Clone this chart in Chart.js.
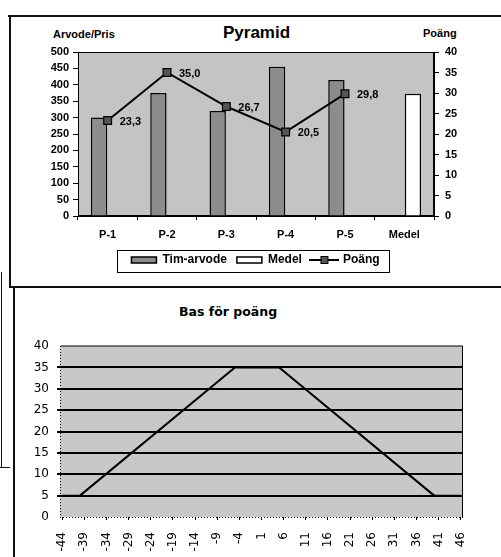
<!DOCTYPE html>
<html>
<head>
<meta charset="utf-8">
<script src="https://cdn.jsdelivr.net/npm/chart.js@4/dist/chart.umd.min.js"></script>
<style>
  html, body { margin: 0; padding: 0; background: #fff; }
  body { width: 501px; height: 557px; position: relative; overflow: hidden; font-family: 'Liberation Sans', Arial, sans-serif; }
  .box { position: absolute; }
  .rule { position: absolute; background: #111; }
  .txt { position: absolute; line-height: 1; white-space: nowrap; color: #000; }
  #top { left: 10px; top: 16px; width: 491px; height: 271px; }
  #bot { left: 15px; top: 288px; width: 486px; height: 269px; }
</style>
</head>
<body>
<!-- frames of the scanned page -->
<div class="rule" style="left:8px; top:15px; width:493px; height:2px"></div>
<div class="rule" style="left:9px; top:15px; width:2px; height:273px"></div>
<div class="rule" style="left:11px; top:286px; width:490px; height:2px"></div>
<div class="rule" style="left:13px; top:286px; width:2px; height:271px"></div>
<div class="rule" style="left:1px; top:272px; width:1px; height:196px"></div>
<div class="rule" style="left:0px; top:467px; width:10px; height:1px"></div>

<div class="txt" style="left:223px; top:24px; font-size:17px; font-weight:bold">Pyramid</div>
<div class="txt" style="left:53px; top:29px; font-size:11px; font-weight:bold">Arvode/Pris</div>
<div class="txt" style="left:423px; top:28px; font-size:11px; font-weight:bold">Poäng</div>
<div class="txt" style="left:179px; top:306px; font-size:12.5px; font-weight:bold; font-family:'DejaVu Sans'">Bas för poäng</div>

<div class="box" id="top"><canvas id="c1"></canvas></div>
<div class="box" id="bot"><canvas id="c2"></canvas></div>

<script>
// Pyramid
const categories = ['P-1', 'P-2', 'P-3', 'P-4', 'P-5', 'Medel'];
const timArvode = [300, 375, 320, 455, 415, null];
const medel = [null, null, null, null, null, 373];
const poang = [23.3, 35.0, 26.7, 20.5, 29.8, null];

// Bas för poäng
const basTicks = [-44, -39, -34, -29, -24, -19, -14, -9, -4, 1, 6, 11, 16, 21, 26, 31, 36, 41, 46];
const basX = [-44, -40, -5, 5, 40, 46];
const basY = [5, 5, 35, 35, 5, 5];

const smallFont = { family: "'Liberation Sans', Arial, sans-serif", size: 11, weight: 'bold' };

// plot background + frame (dotted axes for the lower chart)
const plotBox = {
    id: 'plotBox',
    beforeDraw(chart, args, opts) {
        const { ctx, chartArea: a } = chart;
        ctx.save();
        ctx.fillStyle = opts.fill;
        ctx.fillRect(a.left, a.top, a.width, a.height);
        ctx.restore();
    },
    beforeDatasetsDraw(chart, args, opts) {
        const { ctx, chartArea: a } = chart;
        ctx.save();
        ctx.strokeStyle = '#000';
        ctx.lineWidth = 1;
        if (!opts.dotted) {
            ctx.strokeRect(a.left + 0.5, a.top + 0.5, a.width - 1, a.height - 1);
        } else {
            ctx.beginPath();
            ctx.moveTo(a.left + 0.5, a.top);
            ctx.lineTo(a.right - 0.5, a.top);
            ctx.lineTo(a.right - 0.5, a.bottom);
            ctx.stroke();
            ctx.setLineDash([1, 2]);
            ctx.beginPath();
            ctx.moveTo(a.left + 0.5, a.top);
            ctx.lineTo(a.left + 0.5, a.bottom + 0.5);
            ctx.lineTo(a.right, a.bottom + 0.5);
            ctx.stroke();
        }
        ctx.restore();
    }
};

const pointValues = {
    id: 'pointValues',
    afterDatasetsDraw(chart) {
        const { ctx } = chart;
        const meta = chart.getDatasetMeta(2);
        ctx.save();
        ctx.font = "bold 11px 'Liberation Sans', Arial, sans-serif";
        ctx.fillStyle = '#000';
        ctx.textBaseline = 'middle';
        meta.data.forEach((pt, i) => {
            if (poang[i] == null) return;
            ctx.fillText(poang[i].toFixed(1).replace('.', ','), pt.x + 12, pt.y + 1);
        });
        ctx.restore();
    }
};

const legendFrame = {
    id: 'legendFrame',
    afterDraw(chart) {
        const boxes = chart.legend.legendHitBoxes;
        if (!boxes || !boxes.length) return;
        const left = Math.min(...boxes.map(b => b.left)) - 14;
        const right = Math.max(...boxes.map(b => b.left + b.width)) + 10;
        const top = boxes[0].top - 4;
        const ctx = chart.ctx;
        ctx.save();
        ctx.strokeStyle = '#000';
        ctx.lineWidth = 1;
        ctx.strokeRect(Math.round(left) + 0.5, Math.round(top) + 0.5, Math.round(right - left), 22);
        ctx.restore();
    }
};

// legend swatch for the line series: line with a square marker
const lineSwatch = document.createElement('canvas');
lineSwatch.width = 30;
lineSwatch.height = 10;
(() => {
    const g = lineSwatch.getContext('2d');
    g.strokeStyle = '#000';
    g.lineWidth = 2;
    g.beginPath(); g.moveTo(0, 5); g.lineTo(30, 5); g.stroke();
    g.fillStyle = '#555';
    g.fillRect(11.5, 1.5, 7, 7);
    g.lineWidth = 1;
    g.strokeRect(11.5, 1.5, 7, 7);
})();

new Chart(document.getElementById('c1'), {
    type: 'bar',
    data: {
        labels: categories,
        datasets: [
            { type: 'bar', label: 'Tim-arvode', data: timArvode, yAxisID: 'y', backgroundColor: '#8c8c8c', borderColor: '#000', borderWidth: 1.5, categoryPercentage: 0.58, barPercentage: 0.95, order: 2 },
            { type: 'bar', label: 'Medel', data: medel, yAxisID: 'y', backgroundColor: '#fff', borderColor: '#000', borderWidth: 1.5, categoryPercentage: 0.58, barPercentage: 0.95, order: 2 },
            { type: 'line', label: 'Poäng', data: poang, yAxisID: 'y1', borderColor: '#000', borderWidth: 2, pointStyle: 'rect', pointRadius: 5.5, pointBackgroundColor: '#555', pointBorderColor: '#000', pointBorderWidth: 1.2, tension: 0, order: 1 }
        ]
    },
    options: {
        responsive: true,
        maintainAspectRatio: false,
        animation: false,
        layout: { padding: { top: 36, bottom: 11, left: 0, right: 0 } },
        plugins: {
            title: { display: false },
            tooltip: { enabled: false },
            plotBox: { fill: '#c4c4c4' },
            legend: {
                position: 'bottom',
                labels: {
                    color: '#000',
                    font: { family: "'Liberation Sans', Arial, sans-serif", size: 12, weight: 'bold' },
                    usePointStyle: true,
                    pointStyleWidth: 25,
                    boxWidth: 25,
                    boxHeight: 6,
                    padding: 10,
                    generateLabels(chart) {
                        const items = Chart.defaults.plugins.legend.labels.generateLabels(chart);
                        items.sort((a, b) => a.datasetIndex - b.datasetIndex);
                        items.forEach(it => {
                            it.pointStyle = it.datasetIndex === 2 ? lineSwatch : 'rect';
                            it.fontColor = '#000';
                        });
                        return items;
                    }
                }
            }
        },
        scales: {
            x: {
                grid: { drawOnChartArea: false, tickLength: 4, color: '#000' },
                border: { color: '#000' },
                ticks: { font: smallFont, color: '#000', padding: 8 },
                afterFit: s => { s.height = 28; }
            },
            y: {
                position: 'left',
                min: 0, max: 500,
                ticks: { stepSize: 50, font: smallFont, color: '#000', padding: 4 },
                grid: { drawOnChartArea: false, tickLength: 5, color: '#000' },
                border: { color: '#000' },
                afterFit: s => { s.width = 68; }
            },
            y1: {
                position: 'right',
                min: 0, max: 40,
                ticks: { stepSize: 5, font: smallFont, color: '#000', padding: 6 },
                grid: { drawOnChartArea: false, tickLength: 5, color: '#000' },
                border: { color: '#000' },
                afterFit: s => { s.width = 67; }
            }
        }
    },
    plugins: [plotBox, pointValues, legendFrame]
});

new Chart(document.getElementById('c2'), {
    type: 'line',
    data: {
        datasets: [{
            label: 'Bas för poäng',
            data: basX.map((x, i) => ({ x: x, y: basY[i] })),
            borderColor: '#000',
            borderWidth: 2,
            pointRadius: 0,
            tension: 0
        }]
    },
    options: {
        responsive: true,
        maintainAspectRatio: false,
        animation: false,
        layout: { padding: { top: 58, right: 38, left: 0, bottom: 0 } },
        plugins: {
            legend: { display: false },
            tooltip: { enabled: false },
            plotBox: { fill: '#c8c8c8', dotted: true }
        },
        scales: {
            x: {
                type: 'linear',
                min: -44.5, max: 46.5,
                afterBuildTicks: s => { s.ticks = basTicks.map(v => ({ value: v })); },
                afterFit: s => { s.height = 40; },
                ticks: {
                    autoSkip: false, minRotation: 90, maxRotation: 90,
                    font: { family: "'DejaVu Sans', sans-serif", size: 12 }, color: '#000', padding: 12,
                    callback: v => String(v)
                },
                grid: { drawOnChartArea: false, tickLength: 3, color: '#000' },
                border: { display: false }
            },
            y: {
                min: 0, max: 40,
                afterFit: s => { s.width = 45; },
                ticks: { stepSize: 5, font: { family: "'DejaVu Sans', sans-serif", size: 12 }, color: '#000', padding: 8 },
                grid: {
                    color: c => (c.tick && (c.tick.value === 0 || c.tick.value === 40)) ? 'rgba(0,0,0,0)' : '#000',
                    lineWidth: 2,
                    tickLength: 3
                },
                border: { display: false }
            }
        }
    },
    plugins: [plotBox]
});
</script>
</body>
</html>
